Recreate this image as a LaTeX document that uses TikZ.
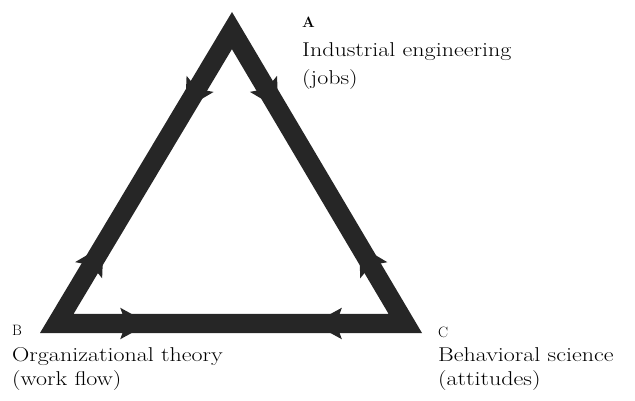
\documentclass[tikz,border=0pt]{standalone}
\usepackage{graphicx}
\usetikzlibrary{calc}
\tikzset{
  bandfill/.style={fill=black!85, draw=none},
  lbl/.style={anchor=base west, inner sep=0pt, font=\fontsize{20}{24}\selectfont},
  cornerlbl/.style={anchor=base west, inner sep=0pt, font=\fontsize{15}{18}\selectfont},
}
\newcommand{\widetxt}[1]{\scalebox{1.2}[1]{#1}}
\newcommand{\bandarrow}[2]{%
  \coordinate (P) at ($(#1)!0.19!(#2)$);
  \fill[bandfill] ($(P)!26pt!(#2)$) -- ($(P)!16pt!100:(#2)$) -- ($(P)!3pt!(#2)$)
    -- ($(P)!16pt!-100:(#2)$) -- cycle;
}
\begin{document}
\begin{tikzpicture}[x=1pt,y=-1pt]
\useasboundingbox (0,0) rectangle (635,401);
% outer corners
\coordinate (A) at (232,12);
\coordinate (B) at (40,333);
\coordinate (C) at (422,333);
\coordinate (I) at (231.5,224.4);
% inner corners
\coordinate (Ai) at ($(I)!0.825!(A)$);
\coordinate (Bi) at ($(I)!0.825!(B)$);
\coordinate (Ci) at ($(I)!0.825!(C)$);
% centre line corners
\coordinate (Am) at ($(I)!0.9125!(A)$);
\coordinate (Bm) at ($(I)!0.9125!(B)$);
\coordinate (Cm) at ($(I)!0.9125!(C)$);
% band
\fill[bandfill, even odd rule] (A) -- (B) -- (C) -- cycle (Ai) -- (Bi) -- (Ci) -- cycle;
% arrowheads
\bandarrow{Am}{Bm}
\bandarrow{Bm}{Am}
\bandarrow{Am}{Cm}
\bandarrow{Cm}{Am}
\bandarrow{Bm}{Cm}
\bandarrow{Cm}{Bm}
% labels
\node[cornerlbl, font=\fontsize{15}{18}\bfseries\selectfont] (la) at (302,28) {A};
\node[lbl] (la1) at (302,57) {\widetxt{Industrial engineering}};
\node[lbl] (la2) at (302,85) {\widetxt{(jobs)}};
\node[cornerlbl] (lb) at (12,335) {B};
\node[lbl] (lb1) at (12,361) {\widetxt{Organizational theory}};
\node[lbl] (lb2) at (12,385) {\widetxt{(work flow)}};
\node[cornerlbl] (lc) at (438,337) {C};
\node[lbl] (lc1) at (438,361) {\widetxt{Behavioral science}};
\node[lbl] (lc2) at (438,385) {\widetxt{(attitudes)}};
\end{tikzpicture}
\end{document}
